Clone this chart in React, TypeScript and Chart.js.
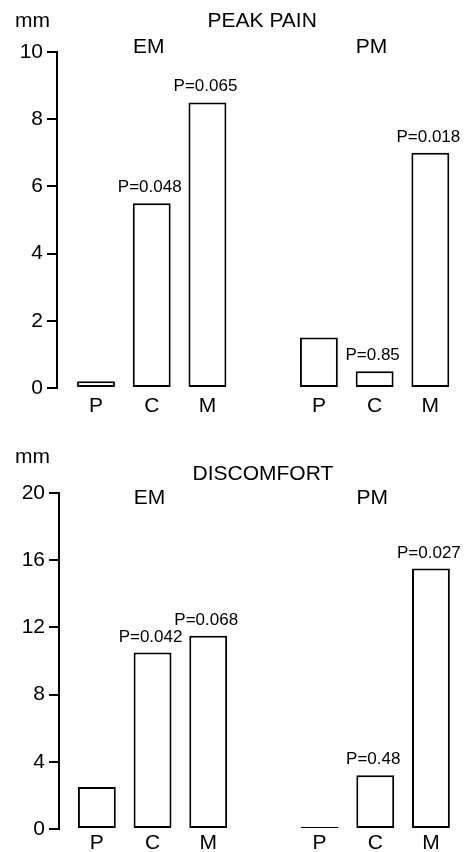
import React, { useEffect, useRef } from 'react';
import { Chart, registerables } from 'chart.js';

Chart.register(...registerables);

const FONT = '"Liberation Sans", Arial, Helvetica, sans-serif';

// ---- data ----
const categories = ['P', 'C', 'M'];
const groups = ['EM', 'PM'];

const peakPainTitle = 'PEAK PAIN';
const peakPainEM = [0.2, 5.5, 8.5];
const peakPainPM = [1.5, 0.5, 7.0];
const peakPainPValuesEM = ['', 'P=0.048', 'P=0.065'];
const peakPainPValuesPM = ['', 'P=0.85', 'P=0.018'];
const peakPainTicks = [0, 2, 4, 6, 8, 10];

const discomfortTitle = 'DISCOMFORT';
const discomfortEM = [2.5, 10.5, 11.5];
const discomfortPM = [0, 3.2, 15.5];
const discomfortPValuesEM = ['', 'P=0.042', 'P=0.068'];
const discomfortPValuesPM = ['', 'P=0.48', 'P=0.027'];
const discomfortTicks = [0, 4, 8, 12, 16, 20];

const unitLabel = 'mm';

// position on the linear x scale: groups separated by one empty slot
const slotsPerGroup = categories.length + 1;
const pos = (g: number, i: number) => g * slotsPerGroup + i + 1;
const groupCenter = (g: number) => g * slotsPerGroup + (categories.length + 1) / 2;
const titleCenter = (groups.length * slotsPerGroup) / 2;

type PanelCfg = {
  title: string;
  series: number[][];
  pvalues: string[][];
  ticks: number[];
  axisX: number;
  padTop: number;
  xHeight: number;
  xPad: number;
  xMin: number;
  xMax: number;
  unitY: number;
  titleY: number;
  groupY: number;
};

function Panel({ cfg }: { cfg: PanelCfg }) {
  const ref = useRef<HTMLCanvasElement>(null);
  useEffect(() => {
    const canvas = ref.current!;
    const data: { x: number; y: number }[] = [];
    cfg.series.forEach((vals, g) => vals.forEach((v, i) => data.push({ x: pos(g, i), y: v })));
    const tickPositions: number[] = [];
    groups.forEach((_, g) => categories.forEach((_, i) => tickPositions.push(pos(g, i))));

    const annotations = {
      id: 'annotations',
      afterDraw(chart: any) {
        const ctx = chart.ctx as CanvasRenderingContext2D;
        const xs = chart.scales.x;
        const ys = chart.scales.y;
        ctx.save();
        ctx.fillStyle = '#000';
        ctx.textBaseline = 'alphabetic';
        ctx.font = `21px ${FONT}`;
        ctx.textAlign = 'left';
        ctx.fillText(unitLabel, 15, cfg.unitY);
        ctx.textAlign = 'center';
        ctx.fillText(cfg.title, xs.getPixelForValue(titleCenter) - 1, cfg.titleY);
        groups.forEach((name, g) => {
          ctx.fillText(name, xs.getPixelForValue(groupCenter(g)) - 3, cfg.groupY);
        });
        ctx.font = `17px ${FONT}`;
        cfg.pvalues.forEach((arr, g) =>
          arr.forEach((t, i) => {
            if (!t) return;
            const v = cfg.series[g][i];
            ctx.fillText(t, xs.getPixelForValue(pos(g, i)) - 2, ys.getPixelForValue(v) - 11);
          })
        );
        ctx.restore();
      },
    };

    const chart = new Chart(canvas, {
      type: 'bar',
      data: {
        datasets: [
          {
            data: data as any,
            backgroundColor: '#fff',
            borderColor: '#000',
            borderWidth: 2,
            borderSkipped: false,
            barPercentage: 0.68,
            categoryPercentage: 1,
            minBarLength: 2,
            clip: false as any,
          },
        ],
      },
      options: {
        responsive: false,
        animation: false,
        devicePixelRatio: 1,
        layout: { padding: { top: cfg.padTop, left: 0, right: 0, bottom: 0 } },
        plugins: {
          legend: { display: false },
          tooltip: { enabled: false },
          title: { display: false },
        },
        scales: {
          x: {
            type: 'linear',
            offset: false,
            min: cfg.xMin,
            max: cfg.xMax,
            grid: { display: false, drawTicks: false, offset: false },
            border: { display: false },
            afterBuildTicks: (s: any) => {
              s.ticks = tickPositions.map((v) => ({ value: v }));
            },
            afterFit: (s: any) => {
              s.height = cfg.xHeight;
            },
            ticks: {
              autoSkip: false,
              maxRotation: 0,
              minRotation: 0,
              padding: cfg.xPad,
              color: '#000',
              font: { family: FONT, size: 21 },
              callback: (v: any) => {
                const idx = tickPositions.indexOf(Number(v));
                return idx >= 0 ? categories[idx % categories.length] : '';
              },
            },
          },
          y: {
            min: cfg.ticks[0],
            max: cfg.ticks[cfg.ticks.length - 1],
            afterBuildTicks: (s: any) => {
              s.ticks = cfg.ticks.map((v) => ({ value: v }));
            },
            afterFit: (s: any) => {
              s.width = cfg.axisX;
            },
            grid: {
              drawOnChartArea: false,
              drawTicks: true,
              tickLength: 10,
              color: '#000',
              lineWidth: 2,
            },
            border: { display: true, color: '#000', width: 2 },
            ticks: {
              padding: 4,
              color: '#000',
              font: { family: FONT, size: 21 },
            },
          },
        },
      },
      plugins: [annotations],
    });
    return () => chart.destroy();
  }, []);
  return <canvas ref={ref} width={466} height={426} style={{ display: 'block' }} />;
}

const topCfg: PanelCfg = {
  title: peakPainTitle,
  series: [peakPainEM, peakPainPM],
  pvalues: [peakPainPValuesEM, peakPainPValuesPM],
  ticks: peakPainTicks,
  axisX: 57,
  padTop: 52,
  xHeight: 38,
  xPad: 6,
  xMin: 0.3,
  xMax: 7.64,
  unitY: 27,
  titleY: 27,
  groupY: 53,
};

const bottomCfg: PanelCfg = {
  title: discomfortTitle,
  series: [discomfortEM, discomfortPM],
  pvalues: [discomfortPValuesEM, discomfortPValuesPM],
  ticks: discomfortTicks,
  axisX: 59,
  padTop: 67,
  xHeight: 23,
  xPad: 2,
  xMin: 0.32,
  xMax: 7.63,
  unitY: 37,
  titleY: 54,
  groupY: 78,
};

export default function App() {
  return (
    <div style={{ position: 'absolute', left: 0, top: 0, width: 466, height: 852, background: '#fff' }}>
      <Panel cfg={topCfg} />
      <Panel cfg={bottomCfg} />
    </div>
  );
}
